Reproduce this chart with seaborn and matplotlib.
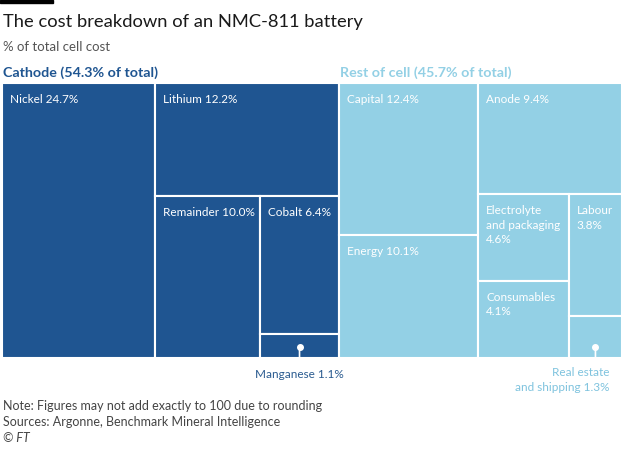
import matplotlib
matplotlib.use("Agg")
import matplotlib.pyplot as plt
import matplotlib.patches as mpatches
import matplotlib.transforms as mtransforms
import seaborn as sns

# -----------------------------
# Data
# -----------------------------
cathode_names = ["Nickel", "Lithium", "Remainder", "Cobalt", "Manganese"]
cathode_values = [24.7, 12.2, 10.0, 6.4, 1.1]
rest_names = ["Capital", "Energy", "Anode", "Electrolyte\nand packaging",
              "Consumables", "Labour", "Real estate\nand shipping"]
rest_values = [12.4, 10.1, 9.4, 4.6, 4.1, 3.8, 1.3]
group_labels = ["Cathode (54.3% of total)", "Rest of cell (45.7% of total)"]

# how the cells nest: "h" = side by side, "v" = stacked (indices into the lists)
cathode_tree = ("h", [0, ("v", [1, ("h", [2, ("v", [3, 4])])])])
rest_tree = ("h", [("v", [0, 1]), ("v", [2, ("h", [("v", [3, 4]), ("v", [5, 6])])])])
outside = {"Manganese", "Real estate\nand shipping"}
two_line = {"Labour", "Consumables", "Electrolyte\nand packaging"}

DARK = "#1f5591"
LIGHT = "#93d0e5"
DARK_TXT = "#2a5b90"
LIGHT_TXT = "#7fc3de"


def node_sum(node, vals):
    if isinstance(node, int):
        return vals[node]
    return sum(node_sum(c, vals) for c in node[1])


def layout(node, vals, x, y, w, h, out):
    # slice-and-dice: y is the top edge, going downward
    if isinstance(node, int):
        out[node] = (x, y, w, h)
        return
    kind, kids = node
    total = node_sum(node, vals)
    pos = 0.0
    for k in kids:
        frac = node_sum(k, vals) / total
        if kind == "h":
            layout(k, vals, x + pos * w, y, w * frac, h, out)
        else:
            layout(k, vals, x, y - pos * h, w, h * frac, out)
        pos += frac


sns.set_style("white")
plt.rcParams["font.family"] = ["Lato", "DejaVu Sans"]

fig = plt.figure(figsize=(6.3, 4.5), dpi=100)
ax = fig.add_axes([2 / 630, 1 - 358 / 450, 620 / 630, 275 / 450])
total = sum(cathode_values) + sum(rest_values)
ax.set_xlim(0, total)
ax.set_ylim(0, 1)
ax.axis("off")

groups = [
    (cathode_names, cathode_values, cathode_tree, DARK, DARK_TXT),
    (rest_names, rest_values, rest_tree, LIGHT, LIGHT_TXT),
]

gx = 0.0
for gi, (names, vals, tree, col, txtcol) in enumerate(groups):
    gw = sum(vals)
    rects = {}
    layout(tree, vals, gx, 1.0, gw, 1.0, rects)
    ax.annotate(group_labels[gi], xy=(gx, 1.0), xytext=(1, 4),
                textcoords="offset pixels", ha="left", va="bottom",
                fontsize=10.3, fontweight="bold", color=col,
                annotation_clip=False)
    for i, name in enumerate(names):
        x, y, w, h = rects[i]
        ax.add_patch(mpatches.Rectangle((x, y - h), w, h, facecolor=col,
                                        edgecolor="white", linewidth=1.5))
        if name in outside:
            label = f"{name} {vals[i]}%"
            cx = x + w / 2
            bottom = y - h
            dot_tr = mtransforms.offset_copy(ax.transData, fig=fig, x=0, y=11, units="dots")
            ax.annotate("", xy=(cx, bottom), xytext=(0, 11), textcoords="offset pixels",
                        arrowprops=dict(arrowstyle="-", color="white", lw=1.2,
                                        shrinkA=0, shrinkB=0))
            ax.plot([cx], [bottom], "o", ms=4, color="white", transform=dot_tr)
            if gi == 0:
                ax.annotate(label, xy=(cx, bottom), xytext=(0, -11),
                            textcoords="offset pixels", ha="center", va="top",
                            fontsize=8.5, color=txtcol, annotation_clip=False)
            else:
                ax.annotate(label, xy=(cx, bottom), xytext=(14, -9),
                            textcoords="offset pixels", ha="right", va="top",
                            multialignment="right", linespacing=1.45,
                            fontsize=8.5, color=txtcol, annotation_clip=False)
        else:
            sep = "\n" if name in two_line else " "
            ax.annotate(f"{name}{sep}{vals[i]}%", xy=(x, y), xytext=(8, -11),
                        textcoords="offset pixels", ha="left", va="top",
                        fontsize=8.5, color="white", linespacing=1.35)
    gx += gw

# -----------------------------
# Titles and notes
# -----------------------------
fig.patches.append(mpatches.Rectangle((0, 1 - 3 / 450), 53 / 630, 3 / 450,
                                      transform=fig.transFigure, color="black"))
fig.text(3 / 630, 1 - 27 / 450, "The cost breakdown of an NMC-811 battery",
         fontsize=13.2, color="#1a1a1a", va="baseline")
fig.text(3 / 630, 1 - 51 / 450, "% of total cell cost", fontsize=9.5,
         color="#555555", va="baseline")
notes = ["Note: Figures may not add exactly to 100 due to rounding",
         "Sources: Argonne, Benchmark Mineral Intelligence"]
for k, line in enumerate(notes):
    fig.text(3 / 630, 1 - (410 + 16 * k) / 450, line, fontsize=9,
             color="#444444", va="baseline")
fig.text(3 / 630, 1 - 442 / 450, "© FT", fontsize=9, color="#444444",
         va="baseline", style="italic")

plt.savefig("out.png", dpi=100, facecolor="white")
